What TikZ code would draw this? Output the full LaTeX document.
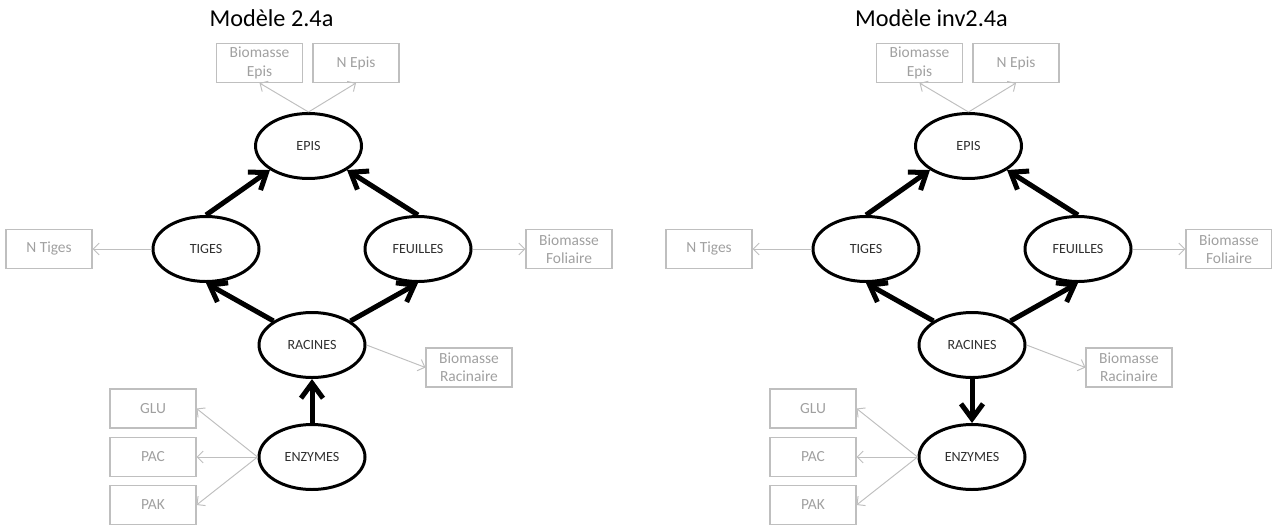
\documentclass[tikz,border=0pt]{standalone}
\usepackage{fontspec}
\setmainfont{Carlito}
\usepackage{tikz}
\usetikzlibrary{arrows.meta,positioning,shapes.geometric}
\definecolor{boxgray}{HTML}{BFBFBF}
\definecolor{textgray}{HTML}{A0A0A0}
\definecolor{organtext}{HTML}{303030}

\begin{document}
\begin{tikzpicture}[
    on grid,
    organ/.style={ellipse, draw=black, line width=1.7pt, minimum width=2.12cm, minimum height=1.3cm, inner sep=0pt, text=organtext, font=\fontsize{8}{9.5}\selectfont},
    outbox/.style={rectangle, draw=boxgray, line width=0.6pt, minimum width=1.72cm, minimum height=0.78cm, inner sep=0pt, align=center, text=textgray, font=\fontsize{8.8}{10.4}\selectfont},
    modeltitle/.style={font=\fontsize{13.8}{16}\selectfont},
    flow/.style={-{Straight Barb[length=3mm,width=4.4mm]}, line width=2.85pt},
    measure/.style={-{Straight Barb[length=1.2mm,width=2.4mm]}, line width=0.55pt, color=boxgray}
]
    \useasboundingbox (0,0) rectangle (25.44,-10.48);

    % Modele 2.4a
    \node[organ] (racines) at (6.24,-6.9) {RACINES};
    \node[organ, above left=3.98cm and 0.07cm of racines] (epis) {EPIS};
    \node[organ, above left=1.92cm and 2.12cm of racines] (tiges) {TIGES};
    \node[organ, above right=1.92cm and 2.12cm of racines] (feuilles) {FEUILLES};
    \node[organ, below=2.24cm of racines] (enzymes) {ENZYMES};
    \node[modeltitle, above left=2.56cm and 0.74cm of epis] (titre) {Modèle 2.4a};
    \node[outbox, above left=1.66cm and 0.98cm of epis] (bepis) {Biomasse\\Epis};
    \node[outbox, above right=1.66cm and 0.95cm of epis] (nepis) {N Epis};
    \node[outbox, left=3.14cm of tiges] (ntiges) {N Tiges};
    \node[outbox, right=3.02cm of feuilles] (bfol) {Biomasse\\Foliaire};
    \node[outbox, below right=0.45cm and 3.14cm of racines] (brac) {Biomasse\\Racinaire};
    \node[outbox, above left=0.97cm and 3.18cm of enzymes] (glu) {GLU};
    \node[outbox, left=3.18cm of enzymes] (pac) {PAC};
    \node[outbox, below left=0.96cm and 3.18cm of enzymes] (pak) {PAK};

    \draw[flow] (tiges.north) -- (epis.south west);
    \draw[flow] (feuilles.north) -- (epis.south east);
    \draw[flow] (racines.north west) -- (tiges.south);
    \draw[flow] (racines.north east) -- (feuilles.south);
    \draw[flow] (enzymes) -- (racines);

    \draw[measure] (epis.north) -- (bepis.south);
    \draw[measure] (epis.north) -- (nepis.south);
    \draw[measure] (tiges) -- (ntiges);
    \draw[measure] (feuilles) -- (bfol);
    \draw[measure] (racines.east) -- (brac.west);
    \draw[measure] (enzymes.west) -- (glu.east);
    \draw[measure] (enzymes.west) -- (pac.east);
    \draw[measure] (enzymes.west) -- (pak.east);

    % Modele inv2.4a
    \node[organ] (invracines) at (19.44,-6.9) {RACINES};
    \node[organ, above left=3.98cm and 0.07cm of invracines] (invepis) {EPIS};
    \node[organ, above left=1.92cm and 2.12cm of invracines] (invtiges) {TIGES};
    \node[organ, above right=1.92cm and 2.12cm of invracines] (invfeuilles) {FEUILLES};
    \node[organ, below=2.24cm of invracines] (invenzymes) {ENZYMES};
    \node[modeltitle, above left=2.56cm and 0.74cm of invepis] (invtitre) {Modèle inv2.4a};
    \node[outbox, above left=1.66cm and 0.98cm of invepis] (invbepis) {Biomasse\\Epis};
    \node[outbox, above right=1.66cm and 0.95cm of invepis] (invnepis) {N Epis};
    \node[outbox, left=3.14cm of invtiges] (invntiges) {N Tiges};
    \node[outbox, right=3.02cm of invfeuilles] (invbfol) {Biomasse\\Foliaire};
    \node[outbox, below right=0.45cm and 3.14cm of invracines] (invbrac) {Biomasse\\Racinaire};
    \node[outbox, above left=0.97cm and 3.18cm of invenzymes] (invglu) {GLU};
    \node[outbox, left=3.18cm of invenzymes] (invpac) {PAC};
    \node[outbox, below left=0.96cm and 3.18cm of invenzymes] (invpak) {PAK};

    \draw[flow] (invtiges.north) -- (invepis.south west);
    \draw[flow] (invfeuilles.north) -- (invepis.south east);
    \draw[flow] (invracines.north west) -- (invtiges.south);
    \draw[flow] (invracines.north east) -- (invfeuilles.south);
    \draw[flow] (invracines) -- (invenzymes);

    \draw[measure] (invepis.north) -- (invbepis.south);
    \draw[measure] (invepis.north) -- (invnepis.south);
    \draw[measure] (invtiges) -- (invntiges);
    \draw[measure] (invfeuilles) -- (invbfol);
    \draw[measure] (invracines.east) -- (invbrac.west);
    \draw[measure] (invenzymes.west) -- (invglu.east);
    \draw[measure] (invenzymes.west) -- (invpac.east);
    \draw[measure] (invenzymes.west) -- (invpak.east);
\end{tikzpicture}
\end{document}
